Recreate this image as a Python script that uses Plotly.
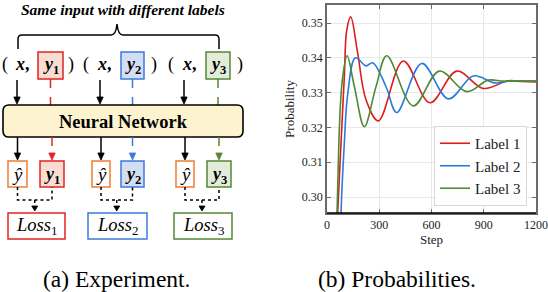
import plotly.graph_objects as go

W, H = 548, 292

# ---------------- data ----------------
steps_label1 = [40, 61, 80, 99, 113, 136, 176, 224, 295, 438, 591, 745, 898, 1040, 1120, 1200]
prob_label1 = [0.262, 0.2954, 0.3154, 0.3346, 0.3480, 0.3518, 0.3413, 0.3279, 0.3219,
               0.3391, 0.3271, 0.3362, 0.3312, 0.3334, 0.3332, 0.3331]

steps_label2 = [60, 80, 99, 119, 163, 224, 262, 339, 400, 544, 697, 840, 965, 1060, 1200]
prob_label2 = [0.250, 0.2954, 0.3154, 0.3298, 0.3400, 0.3377, 0.3386, 0.3317, 0.3243,
               0.3384, 0.3282, 0.3348, 0.3328, 0.3334, 0.3333]

steps_label3 = [35, 57, 75, 90, 115, 157, 214, 281, 343, 495, 645, 802, 926, 1010, 1100, 1200]
prob_label3 = [0.255, 0.2954, 0.3250, 0.3346, 0.3406, 0.3317, 0.3202, 0.3317, 0.3406,
               0.3262, 0.3362, 0.3303, 0.3336, 0.3333, 0.3334, 0.3333]

series_names = ["Label 1", "Label 2", "Label 3"]
series_colors = ["#dd1c1c", "#2b7bde", "#4f8a35"]

x_ticks = [0, 300, 600, 900, 1200]
y_ticks = [0.30, 0.31, 0.32, 0.33, 0.34, 0.35]

SERIF = "Liberation Serif, Times New Roman, serif"

fig = go.Figure()
for xs, ys, nm, c in zip([steps_label1, steps_label2, steps_label3],
                         [prob_label1, prob_label2, prob_label3],
                         series_names, series_colors):
    fig.add_trace(go.Scatter(x=xs, y=ys, name=nm, mode="lines",
                             line=dict(color=c, width=1.6, shape="spline", smoothing=1.0)))

# ---------------- helpers for the diagram (pixel -> paper) ----------------
def PX(x):
    return x / W


def PY(y):
    return 1 - y / H


shapes = []
annotations = []


def rect(x0, y0, x1, y1, color, fill="white", width=1.5):
    shapes.append(dict(type="rect", xref="paper", yref="paper",
                       x0=PX(x0), x1=PX(x1), y0=PY(y1), y1=PY(y0),
                       line=dict(color=color, width=width), fillcolor=fill, layer="above"))


def line(x0, y0, x1, y1, color="black", width=1.5, dash="solid"):
    shapes.append(dict(type="line", xref="paper", yref="paper",
                       x0=PX(x0), x1=PX(x1), y0=PY(y0), y1=PY(y1),
                       line=dict(color=color, width=width, dash=dash), layer="above"))


def path(pts, color="black", width=1.5, dash="solid", fill=None, close=False):
    d = ""
    for cmd, coords in pts:
        d += cmd
        d += " ".join(f"{PX(coords[i]):.5f},{PY(coords[i+1]):.5f}" for i in range(0, len(coords), 2)) + " "
    if close:
        d += "Z"
    s = dict(type="path", xref="paper", yref="paper", path=d,
             line=dict(color=color, width=width, dash=dash), layer="above")
    if fill:
        s["fillcolor"] = fill
    shapes.append(s)


def text(x, y, t, size=16, color="black", family=SERIF):
    annotations.append(dict(x=PX(x), y=PY(y), xref="paper", yref="paper", text=t,
                            showarrow=False, xanchor="center", yanchor="middle",
                            font=dict(size=size, color=color, family=family)))


def head(x, y, color="black", w=3.2, h=7):
    # downward pointing arrowhead with tip at (x, y)
    path([("M", [x, y]), ("L", [x - w, y - h]), ("L", [x + w, y - h])],
         color=color, width=0.8, fill=color, close=True)


RED, RED_F = "#e02424", "#f9ddd3"
BLUE, BLUE_F = "#3a7bdc", "#d4def2"
GREEN, GREEN_F = "#558636", "#e2ecd8"
ORANGE = "#ee7d31"

# title and brace
text(123, 9, "<b><i>Same input with different labels</i></b>", size=15.5)
path([("M", [18, 49]), ("L", [18, 39]), ("Q", [18, 35, 22, 35]), ("L", [111, 35]),
      ("Q", [116, 35, 117, 24]), ("Q", [118, 35, 123, 35]), ("L", [215, 35]),
      ("Q", [219, 35, 219, 39]), ("L", [219, 49])], width=1.5)

# input row
paren_x = [5, 71, 86, 154, 171, 240]
paren_t = ["(", ")", "(", ")", "(", ")"]
for px_, t in zip(paren_x, paren_t):
    text(px_, 64, t, size=18)
for xc in [22, 104, 189]:
    text(xc, 64, "<b><i>x</i>,</b>", size=18)

lab_boxes = [(38, 63, RED, RED_F, "1"), (121, 144, BLUE, BLUE_F, "2"), (206, 230, GREEN, GREEN_F, "3")]
for x0, x1, c, f, k in lab_boxes:
    rect(x0, 52, x1, 79, c, f)
    text((x0 + x1) / 2, 65, f"<b><i>y</i><sub>{k}</sub></b>", size=18)
    line((x0 + x1) / 2, 79, (x0 + x1) / 2, 105, color=c, width=1.5, dash="dash")

for xc in [17, 100, 184]:
    line(xc, 80, xc, 98)
    head(xc, 104)

# Neural Network box with rounded corners
r = 6
path([("M", [3 + r, 105]), ("L", [243 - r, 105]), ("Q", [243, 105, 243, 105 + r]),
      ("L", [243, 137 - r]), ("Q", [243, 137, 243 - r, 137]), ("L", [3 + r, 137]),
      ("Q", [3, 137, 3, 137 - r]), ("L", [3, 105 + r]), ("Q", [3, 105, 3 + r, 105])],
     color="black", width=1.6, fill="#fdf4cf", close=True)
text(123, 122, "<b>Neural Network</b>", size=18.5)

# outputs
yhat_boxes = [(8, 27), (92, 110), (176, 194)]
out_boxes = [(40, 64, RED, RED_F, "1"), (121, 144, BLUE, BLUE_F, "2"), (207, 231, GREEN, GREEN_F, "3")]
loss_boxes = [(8, 65, RED), (88, 147, BLUE), (174, 232, GREEN)]

for (hx0, hx1), (ox0, ox1, c, f, k), (lx0, lx1, lc) in zip(yhat_boxes, out_boxes, loss_boxes):
    hc = (hx0 + hx1) / 2
    oc = (ox0 + ox1) / 2
    line(hc, 137, hc, 154)
    head(hc, 160)
    line(oc, 137, oc, 154, color=c, width=1.5, dash="dash")
    head(oc, 160, color=c)
    rect(hx0, 161, hx1, 187, ORANGE, "white")
    text(hc, 174, "<i>ŷ</i>", size=19)
    rect(ox0, 161, ox1, 187, c, f)
    text(oc, 175, f"<b><i>y</i><sub>{k}</sub></b>", size=18)
    path([("M", [hc, 187]), ("L", [hc, 200]), ("L", [oc, 200]), ("L", [oc, 187])],
         color="black", width=1.5, dash="dot")
    mid = (hc + oc) / 2
    line(mid, 200, mid, 206, color="black", width=1.5, dash="dot")
    head(mid, 211, w=3, h=5)
    rect(lx0, 213, lx1, 239, lc, "white")
    text((lx0 + lx1) / 2, 226, f"<i>Loss</i><sub>{k}</sub>", size=18.5)

# captions
text(116, 279, "(a) Experiment.", size=23.5)
text(397, 279, "(b) Probabilities.", size=23.5)

# bottom spine drawn black
shapes.append(dict(type="line", xref="x domain", yref="y domain", x0=0, x1=1, y0=0, y1=0,
                   line=dict(color="black", width=1.5), layer="above"))

x_dom = [327 / W, 536 / W]
y_dom = [1 - 213 / H, 1 - 5 / H]

axis_common = dict(showgrid=True, gridcolor="#e8e8e8", gridwidth=1, zeroline=False,
                   showline=True, linecolor="#6a6a6a", linewidth=1.5, mirror="ticks",
                   ticks="inside", ticklen=4, tickcolor="#6a6a6a",
                   ticklabeloverflow="allow", automargin=False,
                   tickfont=dict(family=SERIF, size=12, color="#222"))

fig.update_layout(
    width=W, height=H,
    margin=dict(l=0, r=0, t=0, b=0, autoexpand=False),
    paper_bgcolor="white", plot_bgcolor="white",
    showlegend=True,
    xaxis=dict(domain=x_dom, range=[-0.5, 1200.5], tickvals=x_ticks,
               ticktext=[str(v) for v in x_ticks],
               title=dict(text="Step", font=dict(family=SERIF, size=13, color="#222"), standoff=2),
               **axis_common),
    yaxis=dict(domain=y_dom, range=[0.2954, 0.3552], tickvals=y_ticks, tickformat=".2f",
               title=dict(text="Probability", font=dict(family=SERIF, size=13, color="#222"), standoff=4),
               **axis_common),
    legend=dict(x=527 / W, y=1 - 206 / H, xanchor="right", yanchor="bottom",
                bgcolor="rgba(255,255,255,0.9)", bordercolor="#d8d8d8", borderwidth=1,
                font=dict(family=SERIF, size=15, color="#222"), tracegroupgap=0,
                itemwidth=30),
    shapes=shapes,
    annotations=annotations,
)

fig.write_html("out.html", config={"displayModeBar": False},
               post_script="document.body.style.margin='0';document.body.style.padding='0';")
